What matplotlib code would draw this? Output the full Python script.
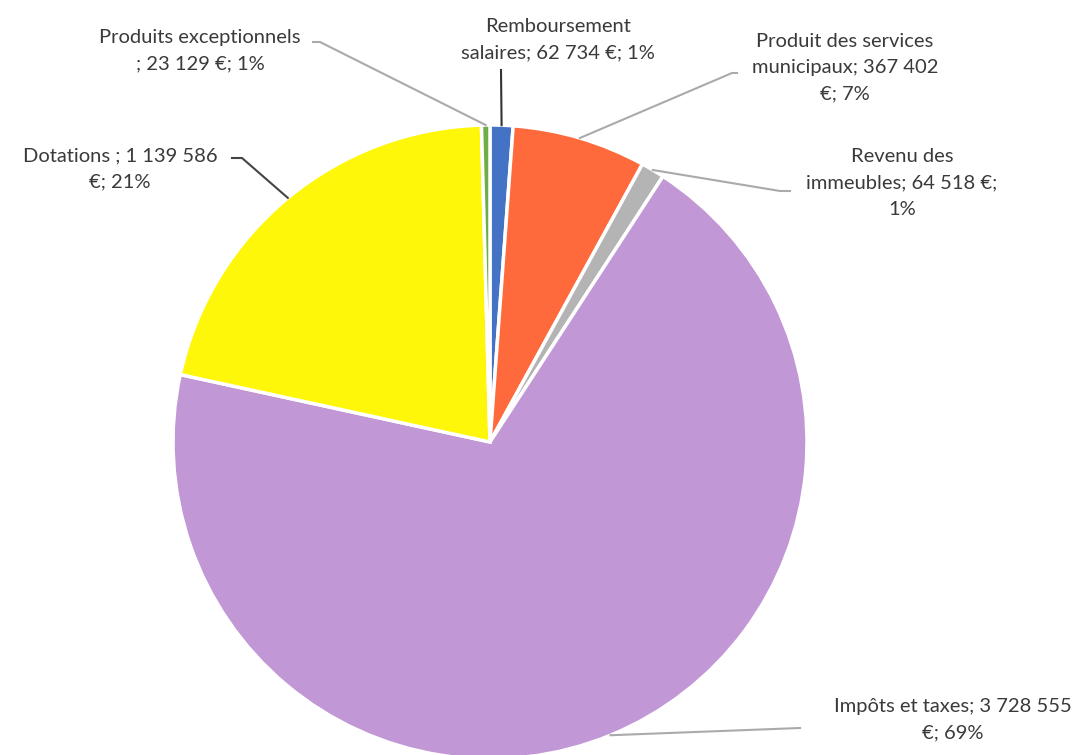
import numpy as np
import matplotlib
matplotlib.use("Agg")
import matplotlib.pyplot as plt

plt.rcParams['font.family'] = ['Lato', 'DejaVu Sans']

categories = ["Remboursement salaires", "Produit des services municipaux",
              "Revenu des immeubles", "Impôts et taxes", "Dotations",
              "Produits exceptionnels"]
values = [62734, 367402, 64518, 3728555, 1139586, 23129]
label_texts = [
    "Remboursement\nsalaires; 62 734 €; 1%",
    "Produit des services\nmunicipaux; 367 402\n€; 7%",
    "Revenu des\nimmeubles; 64 518 €;\n1%",
    "Impôts et taxes; 3 728 555\n€; 69%",
    "Dotations ; 1 139 586\n€; 21%",
    "Produits exceptionnels\n; 23 129 €; 1%",
]
colors = ["#4472C4", "#FF6A3D", "#B4B4B4", "#C197D6", "#FFF70A", "#6FAE47"]

W, H = 1080, 755
fig = plt.figure(figsize=(W / 100, H / 100), dpi=100)
ax = fig.add_axes([0, 0, 1, 1])

cx, cy, r = 490, H - 442, 317
wedges, _ = ax.pie(values, colors=colors, startangle=90, counterclock=False,
                   center=(cx, cy), radius=r,
                   wedgeprops=dict(edgecolor="white", linewidth=2.5))
ax.set_xlim(0, W)
ax.set_ylim(0, H)
ax.set_aspect("equal")
ax.axis("off")

# label layout: text center, line start, elbow, line colour
layout = [
    ((558, H - 40), (501, H - 70), None, "#333333"),
    ((845, H - 68), (737, H - 73), (732, H - 73), "#AAAAAA"),
    ((902, H - 183), (790, H - 191), (780, H - 191), "#AAAAAA"),
    ((953, H - 720), (800, H - 728), None, "#AAAAAA"),
    ((120, H - 169), (232, H - 158), (242, H - 158), "#444444"),
    ((200, H - 51), (313, H - 42), (320, H - 42), "#AAAAAA"),
]

for w, txt, (tpos, start, elbow, lc) in zip(wedges, label_texts, layout):
    mid = np.deg2rad((w.theta1 + w.theta2) / 2)
    ex = cx + r * np.cos(mid)
    ey = cy + r * np.sin(mid)
    xs = [start[0]]
    ys = [start[1]]
    if elbow is not None:
        xs.append(elbow[0])
        ys.append(elbow[1])
    xs.append(ex)
    ys.append(ey)
    ax.plot(xs, ys, color=lc, lw=1.5, zorder=1)
    ax.text(tpos[0], tpos[1], txt, ha="center", va="center", fontsize=14.5,
            color="#3A3A3A", linespacing=1.65)

fig.savefig("out.png", dpi=100, facecolor="white")
